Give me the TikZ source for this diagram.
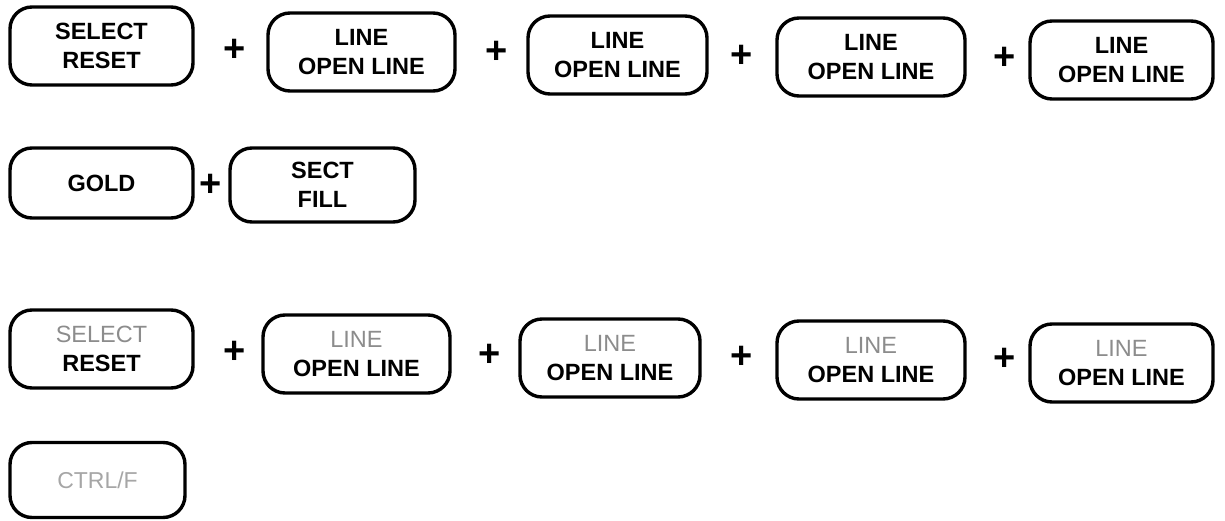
\documentclass[tikz,border=0pt]{standalone}
\usepackage{fontspec}
\setmainfont{Liberation Sans}
\begin{document}
\begin{tikzpicture}[x=1pt,y=-1pt,
  keybox/.style={draw, line width=3.4pt, rounded corners=22pt, minimum width=183pt, minimum height=78pt, inner sep=0pt, align=center, font=\fontsize{23.5}{29}\selectfont\bfseries},
  plussign/.style={inner sep=0pt, font=\fontsize{38}{38}\selectfont\bfseries},
  faint/.style={text=black!45, font=\fontsize{23}{29}\selectfont\mdseries}]
\useasboundingbox (0,0) rectangle (1225,521);
% row 1
\node[keybox] (a1) at (101.5,46) {SELECT\\RESET};
\node[plussign] (p1) at (235,50) {+};
\node[keybox, minimum width=187pt] (a2) at (361.5,52) {LINE\\OPEN LINE};
\node[plussign] (p2) at (497,52) {+};
\node[keybox, minimum width=179pt] (a3) at (617.5,55) {LINE\\OPEN LINE};
\node[plussign] (p3) at (742,56) {+};
\node[keybox, minimum width=188pt] (a4) at (871,57) {LINE\\OPEN LINE};
\node[plussign] (p4) at (1005,58) {+};
\node[keybox] (a5) at (1121.5,60) {LINE\\OPEN LINE};
% row 2
\node[keybox, minimum height=70pt] (g1) at (101.5,183) {GOLD};
\node[plussign] (gp) at (211,185) {+};
\node[keybox, minimum width=185pt, minimum height=74pt] (g2) at (322.5,185) {SECT\\FILL};
% row 3
\node[keybox] (b1) at (101.5,349) {{\color{black!45}\mdseries SELECT}\\RESET};
\node[plussign] (q1) at (235,352) {+};
\node[keybox, minimum width=187pt] (b2) at (356.5,354) {{\color{black!45}\mdseries LINE}\\OPEN LINE};
\node[plussign] (q2) at (490,355) {+};
\node[keybox, minimum width=180pt] (b3) at (610,358) {{\color{black!45}\mdseries LINE}\\OPEN LINE};
\node[plussign] (q3) at (742,357) {+};
\node[keybox, minimum width=188pt] (b4) at (871,360) {{\color{black!45}\mdseries LINE}\\OPEN LINE};
\node[plussign] (q4) at (1005,359) {+};
\node[keybox] (b5) at (1121.5,363) {{\color{black!45}\mdseries LINE}\\OPEN LINE};
% row 4
\node[keybox, minimum width=175pt, minimum height=75pt, text=black!35, font=\fontsize{23}{28}\selectfont\mdseries] (c1) at (97.5,480) {CTRL/F};
\end{tikzpicture}
\end{document}
